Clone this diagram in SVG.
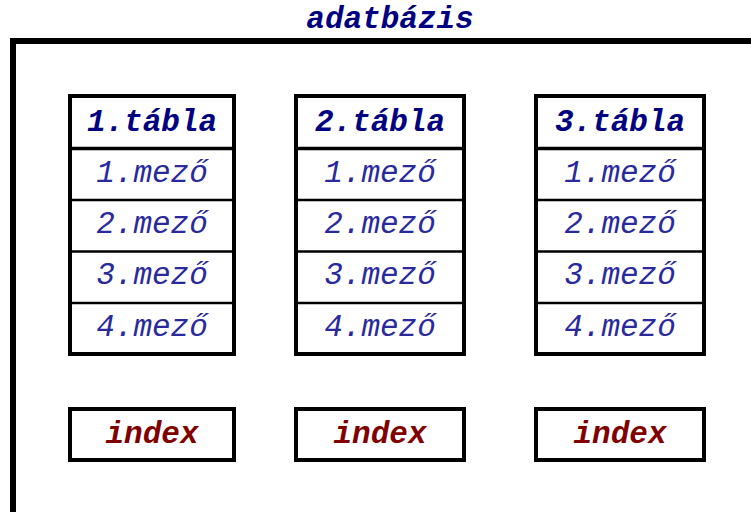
<svg xmlns="http://www.w3.org/2000/svg" width="751" height="512" viewBox="0 0 751 512">
<style>
.t{font-family:"Liberation Mono","Courier New",monospace;font-size:31px;font-style:italic;text-anchor:middle}
.title{font-weight:bold;fill:#000080}
.head{font-weight:bold;fill:#000080}
.fld{fill:#2a2a9c}
.idx{font-weight:bold;fill:#800000}
.box{fill:#fff;stroke:#000;stroke-width:4}
.hs{stroke:#000;stroke-width:3.5}
.fs{stroke:#000;stroke-width:2.5}
</style>
<rect width="751" height="512" fill="#fff"/>
<g id="frame">
<path d="M13,512 V41 H751" fill="none" stroke="#000" stroke-width="6"/>
<text class="t title" x="390" y="28">adatbázis</text>
</g>
<g id="table1">
<rect class="box" x="70" y="96" width="164" height="258"/>
<line class="hs" x1="70" y1="148.5" x2="234" y2="148.5"/>
<line class="fs" x1="70" y1="200" x2="234" y2="200"/>
<line class="fs" x1="70" y1="251.5" x2="234" y2="251.5"/>
<line class="fs" x1="70" y1="303" x2="234" y2="303"/>
<text class="t head" x="152" y="131">1.tábla</text>
<text class="t fld" x="152" y="182">1.mező</text>
<text class="t fld" x="152" y="233">2.mező</text>
<text class="t fld" x="152" y="284">3.mező</text>
<text class="t fld" x="152" y="336">4.mező</text>
</g>
<g id="table2">
<rect class="box" x="296" y="96" width="168" height="258"/>
<line class="hs" x1="296" y1="148.5" x2="464" y2="148.5"/>
<line class="fs" x1="296" y1="200" x2="464" y2="200"/>
<line class="fs" x1="296" y1="251.5" x2="464" y2="251.5"/>
<line class="fs" x1="296" y1="303" x2="464" y2="303"/>
<text class="t head" x="380" y="131">2.tábla</text>
<text class="t fld" x="380" y="182">1.mező</text>
<text class="t fld" x="380" y="233">2.mező</text>
<text class="t fld" x="380" y="284">3.mező</text>
<text class="t fld" x="380" y="336">4.mező</text>
</g>
<g id="table3">
<rect class="box" x="536" y="96" width="168" height="258"/>
<line class="hs" x1="536" y1="148.5" x2="704" y2="148.5"/>
<line class="fs" x1="536" y1="200" x2="704" y2="200"/>
<line class="fs" x1="536" y1="251.5" x2="704" y2="251.5"/>
<line class="fs" x1="536" y1="303" x2="704" y2="303"/>
<text class="t head" x="620" y="131">3.tábla</text>
<text class="t fld" x="620" y="182">1.mező</text>
<text class="t fld" x="620" y="233">2.mező</text>
<text class="t fld" x="620" y="284">3.mező</text>
<text class="t fld" x="620" y="336">4.mező</text>
</g>
<g id="index1">
<rect class="box" x="70" y="409" width="164" height="51"/>
<text class="t idx" x="152" y="443">index</text>
</g>
<g id="index2">
<rect class="box" x="296" y="409" width="168" height="51"/>
<text class="t idx" x="380" y="443">index</text>
</g>
<g id="index3">
<rect class="box" x="536" y="409" width="168" height="51"/>
<text class="t idx" x="620" y="443">index</text>
</g>
<g id="connectors"></g>
</svg>
